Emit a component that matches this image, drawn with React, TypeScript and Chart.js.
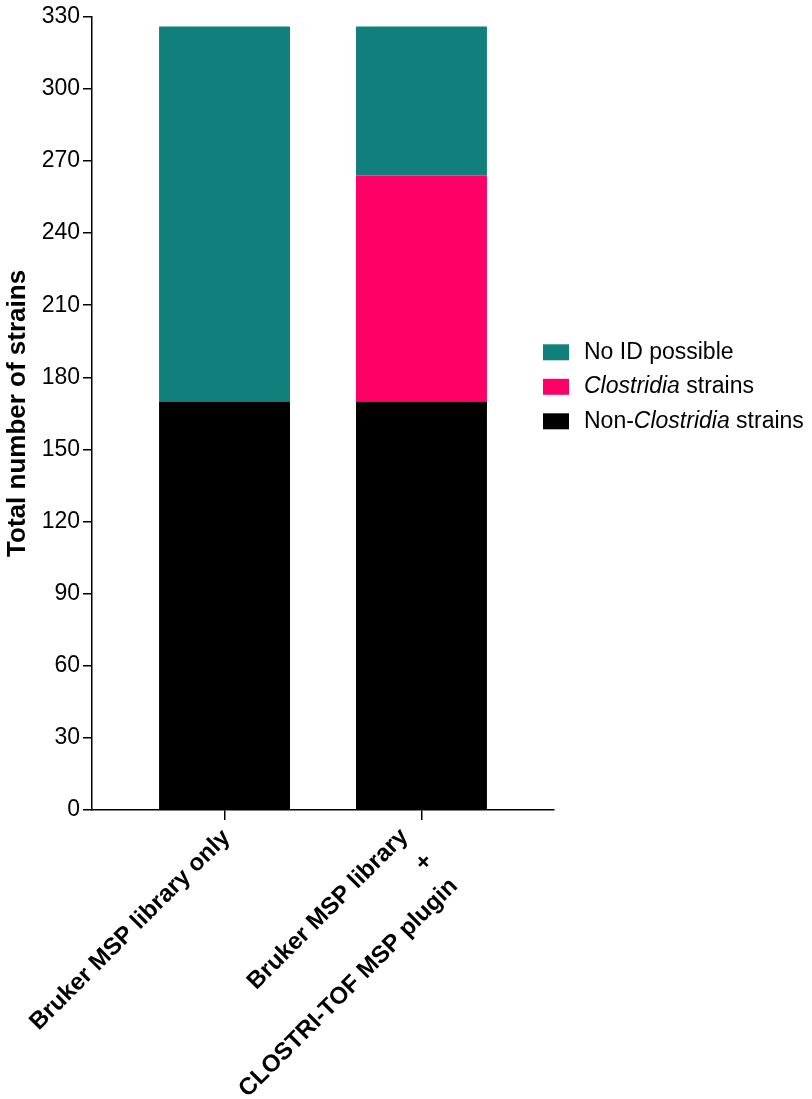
import React, { useEffect, useRef } from 'react';
import Chart from 'chart.js/auto';

const categories = [
  ['Bruker MSP library only'],
  ['Bruker MSP library', '+', 'CLOSTRI-TOF MSP plugin'],
];
const nonClostridia = [170, 170];
const clostridia = [0, 94];
const noIdPossible = [156, 62];
const yTicks = [0, 30, 60, 90, 120, 150, 180, 210, 240, 270, 300, 330];

// legend rows, top to bottom, with italic parts marked
const legendRows = [
  { color: '#117f7c', parts: [{ text: 'No ID possible', italic: false }] },
  {
    color: '#ff0066',
    parts: [
      { text: 'Clostridia', italic: true },
      { text: ' strains', italic: false },
    ],
  },
  {
    color: '#000000',
    parts: [
      { text: 'Non-', italic: false },
      { text: 'Clostridia', italic: true },
      { text: ' strains', italic: false },
    ],
  },
];

const FONT = '"Liberation Sans", Arial, Helvetica, sans-serif';

const legendPlugin = {
  id: 'mixedLegend',
  afterDraw(chart: any) {
    const { ctx, chartArea } = chart;
    const boxX = chartArea.right - 11;
    const textX = boxX + 41;
    const midY = chartArea.top + 370;
    ctx.save();
    ctx.textBaseline = 'middle';
    legendRows.forEach((row, i) => {
      const y = midY + (i - 1) * 34.5;
      ctx.fillStyle = row.color;
      ctx.fillRect(boxX, y - 8, 26, 16);
      let x = textX;
      ctx.fillStyle = '#000';
      row.parts.forEach((p) => {
        ctx.font = `${p.italic ? 'italic ' : ''}23px ${FONT}`;
        ctx.fillText(p.text, x, y);
        x += ctx.measureText(p.text).width;
      });
    });
    ctx.restore();
  },
};

// rotated category labels; multi-line blocks sit a little up-left of the tick
const xLabelPlugin = {
  id: 'rotatedXLabels',
  afterDraw(chart: any) {
    const { ctx } = chart;
    const scale = chart.scales.x;
    const step = 35 * Math.SQRT1_2;
    ctx.save();
    ctx.font = `bold 24px ${FONT}`;
    ctx.fillStyle = '#000';
    ctx.textAlign = 'right';
    ctx.textBaseline = 'middle';
    categories.forEach((lines, i) => {
      const tx = scale.getPixelForValue(i);
      const extra = lines.length - 1;
      const x0 = tx + 2 - extra * 9.5;
      const y0 = scale.top + 24 - extra * 0.5;
      lines.forEach((line, k) => {
        ctx.save();
        ctx.translate(x0 + k * step, y0 + k * step);
        ctx.rotate(-Math.PI / 4);
        ctx.fillText(line, 0, 0);
        ctx.restore();
      });
    });
    ctx.restore();
  },
};

const StackedChart: React.FC = () => {
  const canvasRef = useRef<HTMLCanvasElement>(null);
  const chartRef = useRef<Chart | null>(null);

  useEffect(() => {
    document.body.style.margin = '0';
    if (!canvasRef.current) return;
    if (chartRef.current) chartRef.current.destroy();

    const toPoints = (arr: number[]) => arr.map((v, i) => ({ x: i, y: v }));

    chartRef.current = new Chart(canvasRef.current, {
      type: 'bar',
      data: {
        datasets: [
          { label: 'Non-Clostridia strains', data: toPoints(nonClostridia), backgroundColor: '#000000' },
          { label: 'Clostridia strains', data: toPoints(clostridia), backgroundColor: '#ff0066' },
          { label: 'No ID possible', data: toPoints(noIdPossible), backgroundColor: '#117f7c' },
        ] as any,
      },
      plugins: [legendPlugin, xLabelPlugin],
      options: {
        responsive: true,
        maintainAspectRatio: false,
        animation: false,
        layout: { padding: { top: 15, right: 258, left: 0, bottom: 0 } },
        datasets: {
          bar: { barPercentage: 0.665, categoryPercentage: 1, borderWidth: 0 },
        },
        plugins: {
          legend: { display: false },
          tooltip: { enabled: false },
        },
        scales: {
          x: {
            type: 'linear',
            stacked: true,
            offset: false,
            min: -0.673,
            max: 1.673,
            afterBuildTicks: (axis: any) => {
              axis.ticks = categories.map((_, i) => ({ value: i }));
            },
            afterFit: (axis: any) => {
              axis.height = 289;
            },
            grid: {
              offset: false,
              drawOnChartArea: false,
              drawTicks: true,
              tickLength: 10,
              color: '#000',
              lineWidth: 1.5,
            },
            border: { color: '#000', width: 1.5 },
            ticks: { display: false },
          },
          y: {
            stacked: true,
            min: 0,
            max: 330,
            afterBuildTicks: (axis: any) => {
              axis.ticks = yTicks.map((v) => ({ value: v }));
            },
            afterFit: (axis: any) => {
              axis.width = 92;
            },
            grid: {
              drawOnChartArea: false,
              drawTicks: true,
              tickLength: 9,
              color: '#000',
              lineWidth: 1.5,
            },
            border: { color: '#000', width: 1.5 },
            ticks: {
              padding: 3,
              color: '#000',
              font: { family: FONT, size: 23 },
            },
            title: {
              display: true,
              text: 'Total number of strains',
              color: '#000',
              padding: { top: 2, bottom: 0 },
              font: { family: FONT, size: 26, weight: 'bold' },
            },
          },
        },
      } as any,
    });

    return () => {
      if (chartRef.current) {
        chartRef.current.destroy();
        chartRef.current = null;
      }
    };
  }, []);

  return (
    <div style={{ width: 812, height: 1099, position: 'relative', background: '#fff' }}>
      <canvas ref={canvasRef}></canvas>
    </div>
  );
};

export default function App() {
  return <StackedChart />;
}
